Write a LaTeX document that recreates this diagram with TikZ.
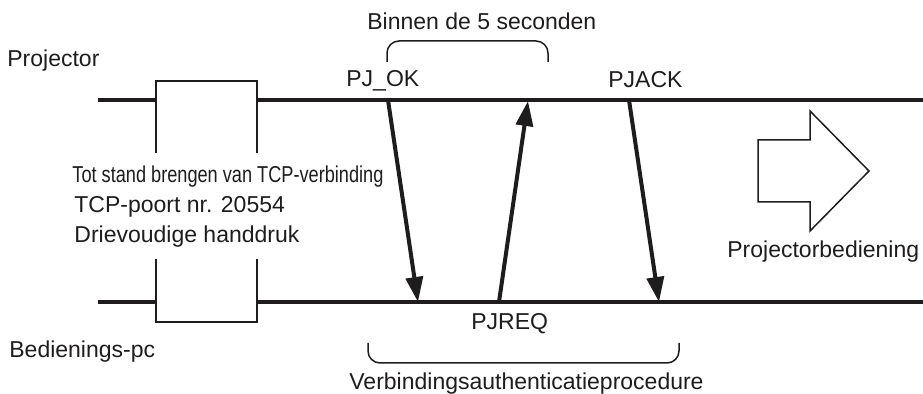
\documentclass[tikz,border=0pt]{standalone}
\usepackage{fontspec}
\setmainfont{Liberation Sans}
\newfontfamily\narrowfont[FakeStretch=0.79]{Liberation Sans}
\usepackage{tikz}
\usetikzlibrary{arrows.meta,positioning}
\usepackage{xcolor}
\definecolor{inkblack}{RGB}{30,28,28}

\begin{document}
\begin{tikzpicture}[
  x=0.5pt,y=-0.5pt,
  lbl/.style={inner sep=0pt,anchor=base west,text=inkblack,
              font=\fontsize{11.5}{14}\selectfont},
  tline/.style={line width=1.75pt,draw=inkblack},
  tcpbox/.style={line width=1pt,draw=inkblack},
  msg/.style={-{Triangle[length=12.5pt,width=8.5pt]},line width=2pt,draw=inkblack},
  span/.style={line width=0.75pt,draw=inkblack,rounded corners=6pt},
  bigarrow/.style={line width=0.75pt,draw=inkblack},
]
\useasboundingbox (0,0) rectangle (923,394);

% time lines
\coordinate (pjL) at (98,100);
\coordinate (pjR) at (923,100);
\coordinate (pcL) at (98,302);
\coordinate (pcR) at (923,302);
\draw[tline] (pjL) -- (156,100);
\draw[tline] (257,100) -- (pjR);
\draw[tline] (pcL) -- (156,302);
\draw[tline] (257,302) -- (pcR);

% TCP handshake box
\draw[tcpbox] (156,153) -- (156,81) -- (257,81) -- (257,153);
\draw[tcpbox] (156,259) -- (156,322) -- (257,322) -- (257,259);

\node[lbl] (proj) at (7,67) {Projector};
\node[lbl] (pc) at (9,358) {Bedienings-pc};
\node[lbl,font=\narrowfont\fontsize{11.5}{14}\selectfont] (tcp1) at (72,183)
  {Tot stand brengen van TCP-verbinding};
\node[lbl] (tcp2) at (74,213) {TCP-poort nr. 20554};
\node[lbl] (tcp3) at (74,243) {Drievoudige handdruk};

% messages
\coordinate (okA) at (388,100);
\coordinate (okB) at (418,302);
\coordinate (rqA) at (499,302);
\coordinate (rqB) at (528,101);
\coordinate (akA) at (629,100);
\coordinate (akB) at (659,302);
\draw[msg] (okA) -- (okB);
\draw[msg] (rqA) -- (rqB);
\draw[msg] (akA) -- (akB);

\node[lbl] (pjok) at (346,87) {PJ\_OK};
\node[lbl] (pjack) at (608,88) {PJACK};
\node[lbl] (pjreq) at (471,330) {PJREQ};

% time spans
\draw[span] (387,62) -- (387,41) -- (548,41) -- (548,62);
\draw[span] (368,343) -- (368,363) -- (679,363) -- (679,343);
\node[lbl] (within) at (367,30) {Binnen de 5 seconden};
\node[lbl] (auth) at (349,390) {Verbindingsauthenticatieprocedure};

% projector operation
\draw[bigarrow] (758,140) -- (810,140) -- (810,111) -- (869,171)
  -- (810,231) -- (810,202) -- (758,202) -- cycle;
\node[lbl] (ctrl) at (727,258) {Projectorbediening};
\end{tikzpicture}
\end{document}
